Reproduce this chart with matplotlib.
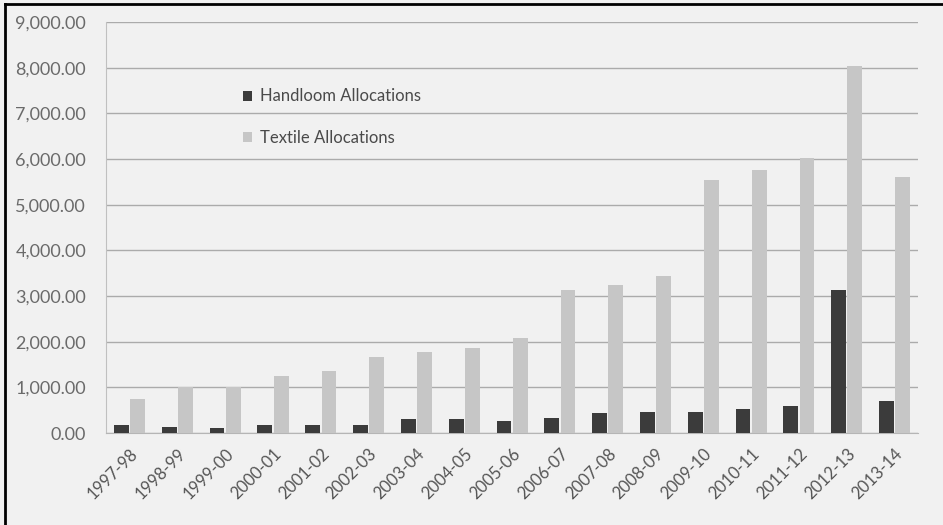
import numpy as np
import matplotlib.pyplot as plt
from matplotlib.lines import Line2D

years = ['1997-98', '1998-99', '1999-00', '2000-01', '2001-02', '2002-03',
         '2003-04', '2004-05', '2005-06', '2006-07', '2007-08', '2008-09',
         '2009-10', '2010-11', '2011-12', '2012-13', '2013-14']
handloom = [175, 130, 110, 175, 175, 175, 300, 300, 260, 330, 440, 460,
            460, 525, 590, 3130, 700]
textile = [745, 1000, 1000, 1250, 1360, 1660, 1770, 1860, 2080, 3130, 3240,
           3440, 5540, 5760, 6020, 8030, 5600]

plt.rcParams['font.family'] = ['Lato', 'DejaVu Sans']

fig = plt.figure(figsize=(9.43, 5.25), dpi=100, facecolor='#f1f1f1')
ax = fig.add_axes([0.112, 0.175, 0.862, 0.783])
ax.set_facecolor('#f1f1f1')

x = np.arange(len(years))
w = 0.31
ax.bar(x - 0.17, handloom, w, color='#3b3b3b', label='Handloom Allocations', zorder=3)
ax.bar(x + 0.17, textile, w, color='#c6c6c6', label='Textile Allocations', zorder=3)

ax.set_xlim(-0.5, len(years) - 0.5)
ax.set_ylim(0, 9000)
ax.set_yticks(np.arange(0, 9001, 1000))
ax.set_yticklabels(['{:,.2f}'.format(v) for v in range(0, 9001, 1000)])
ax.yaxis.grid(True, color='#ababab', linewidth=1.0, zorder=0)
ax.set_xticks(x)
ax.set_xticklabels(years, rotation=45, ha='right', rotation_mode='anchor')
ax.tick_params(axis='y', length=0, labelsize=13, labelcolor='#6a6a6a', pad=14)
ax.tick_params(axis='x', length=0, labelsize=12, labelcolor='#555555', pad=9)
for s in ['top', 'right']:
    ax.spines[s].set_visible(False)
ax.spines['left'].set_color('#c0c0c0')
ax.spines['bottom'].set_color('#b5b5b5')

leg = ax.legend(loc='upper left', bbox_to_anchor=(0.15, 0.875), frameon=False,
                fontsize=12, handlelength=0.55, handleheight=0.55,
                labelspacing=1.55, handletextpad=0.5)
for t in leg.get_texts():
    t.set_color('#4a4a4a')

# scan frame: black line on top and left edge
fig.add_artist(Line2D([0.005, 1.0], [0.993, 0.993], color='black', linewidth=2))
fig.add_artist(Line2D([0.005, 0.005], [0.0, 0.993], color='black', linewidth=2))

fig.savefig('out.png', dpi=100, facecolor=fig.get_facecolor())
